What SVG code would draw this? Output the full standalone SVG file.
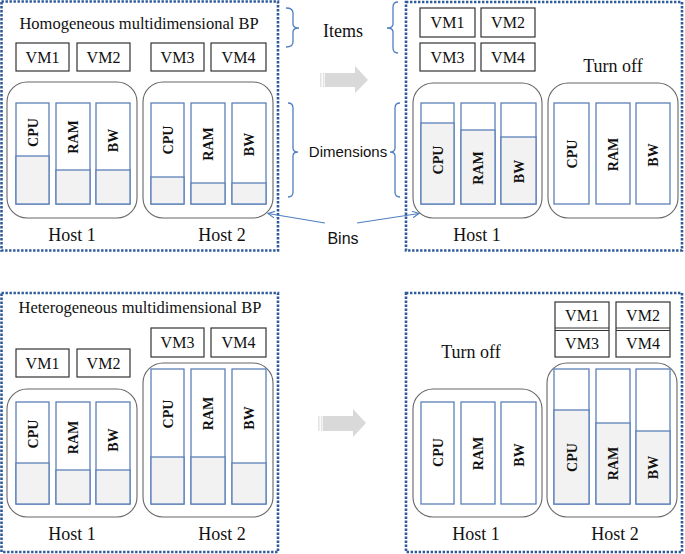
<svg xmlns="http://www.w3.org/2000/svg" width="685" height="554" viewBox="0 0 685 554">
<style>
.panel{fill:none;stroke:#2e5a9a;stroke-width:2.6;stroke-dasharray:2.4 1.6}
.host{fill:#fff;stroke:#666;stroke-width:1.1}
.bar{fill:#fff;stroke:#5b80b8;stroke-width:1.3}
.used{fill:#f2f2f2;stroke:#5b80b8;stroke-width:1.3}
.vm{fill:#fff;stroke:#333;stroke-width:1.2}
.t{font-family:"Liberation Serif","Times New Roman",serif;fill:#111;text-anchor:middle}
.vmt{font-size:16px}
.big{font-size:18px}
.title{font-size:16.5px}
.dim{font-family:"Liberation Serif","Times New Roman",serif;font-weight:bold;font-size:14px;fill:#111;text-anchor:middle}
.sans{font-family:"Liberation Sans",Arial,sans-serif;font-size:15px;fill:#111;text-anchor:middle}
.brace{fill:none;stroke:#4f7fc0;stroke-width:1.3}
.bin{fill:none;stroke:#4f7fc0;stroke-width:1.1}
.arrow{fill:#d9d9d9}
.stripe{fill:#e4e4e4}
</style>
<defs>
<marker id="open" markerWidth="8" markerHeight="8" refX="7" refY="4" orient="auto" markerUnits="userSpaceOnUse">
<path d="M0,0.5 L7,4 L0,7.5" fill="none" stroke="#4f7fc0" stroke-width="1.1"/>
</marker>
</defs>

<!-- ===== Top-left panel ===== -->
<g id="panel-homogeneous">
<rect class="panel" x="1.5" y="1.5" width="276.5" height="249"/>
<text class="t title" x="139" y="29">Homogeneous multidimensional BP</text>
</g>
<g id="tl-vm1"><rect class="vm" x="16" y="43" width="53" height="28"/><text class="t vmt" x="42.5" y="62.6">VM1</text></g>
<g id="tl-vm2"><rect class="vm" x="77" y="43" width="53" height="28"/><text class="t vmt" x="103.5" y="62.6">VM2</text></g>
<g id="tl-vm3"><rect class="vm" x="151" y="43" width="53" height="28"/><text class="t vmt" x="177.5" y="62.6">VM3</text></g>
<g id="tl-vm4"><rect class="vm" x="211" y="43" width="55" height="28"/><text class="t vmt" x="238.5" y="62.6">VM4</text></g>
<g id="tl-host1">
<rect class="host" x="7" y="82" width="130" height="136" rx="20"/>
<rect class="bar" x="16" y="103" width="33" height="101"/><rect class="used" x="16" y="156" width="33" height="48"/>
<rect class="bar" x="56" y="103" width="34" height="101"/><rect class="used" x="56" y="170" width="34" height="34"/>
<rect class="bar" x="96" y="103" width="34" height="101"/><rect class="used" x="96" y="170" width="34" height="34"/>
<text class="dim" transform="translate(37.5,132.5) rotate(-90)">CPU</text>
<text class="dim" transform="translate(78,137) rotate(-90)">RAM</text>
<text class="dim" transform="translate(118,140.5) rotate(-90)">BW</text>
<text class="t big" x="72" y="241">Host 1</text>
</g>
<g id="tl-host2">
<rect class="host" x="143" y="82" width="130" height="136" rx="20"/>
<rect class="bar" x="151" y="103" width="33" height="101"/><rect class="used" x="151" y="177" width="33" height="27"/>
<rect class="bar" x="191" y="103" width="34" height="101"/><rect class="used" x="191" y="183" width="34" height="21"/>
<rect class="bar" x="232" y="103" width="34" height="101"/><rect class="used" x="232" y="183" width="34" height="21"/>
<text class="dim" transform="translate(172.5,140) rotate(-90)">CPU</text>
<text class="dim" transform="translate(213,144) rotate(-90)">RAM</text>
<text class="dim" transform="translate(254,144.5) rotate(-90)">BW</text>
<text class="t big" x="222" y="241">Host 2</text>
</g>

<!-- ===== Top-right panel ===== -->
<g id="panel-homogeneous-result">
<rect class="panel" x="406" y="2" width="276" height="248.5"/>
<text class="t big" x="613" y="72">Turn off</text>
</g>
<g id="tr-vm1"><rect class="vm" x="420" y="8" width="55" height="29"/><text class="t vmt" x="447.5" y="28">VM1</text></g>
<g id="tr-vm2"><rect class="vm" x="481" y="8" width="54" height="29"/><text class="t vmt" x="508" y="28">VM2</text></g>
<g id="tr-vm3"><rect class="vm" x="420" y="43" width="55" height="28"/><text class="t vmt" x="447.5" y="62.6">VM3</text></g>
<g id="tr-vm4"><rect class="vm" x="481" y="43" width="54" height="28"/><text class="t vmt" x="508" y="62.6">VM4</text></g>
<g id="tr-host1">
<rect class="host" x="413" y="83" width="129" height="135" rx="20"/>
<rect class="bar" x="421" y="103" width="33" height="101"/><rect class="used" x="421" y="123" width="33" height="81"/>
<rect class="bar" x="461" y="103" width="34" height="101"/><rect class="used" x="461" y="130" width="34" height="74"/>
<rect class="bar" x="501" y="103" width="35" height="101"/><rect class="used" x="501" y="137" width="35" height="67"/>
<text class="dim" transform="translate(442.5,160) rotate(-90)">CPU</text>
<text class="dim" transform="translate(483,168) rotate(-90)">RAM</text>
<text class="dim" transform="translate(523.5,171.5) rotate(-90)">BW</text>
<text class="t big" x="477" y="241">Host 1</text>
</g>
<g id="tr-host2">
<rect class="host" x="548" y="83" width="130" height="135" rx="20"/>
<rect class="bar" x="554" y="103" width="35" height="101"/>
<rect class="bar" x="596" y="103" width="34" height="101"/>
<rect class="bar" x="636" y="103" width="34" height="101"/>
<text class="dim" transform="translate(576.5,154) rotate(-90)">CPU</text>
<text class="dim" transform="translate(618,154.5) rotate(-90)">RAM</text>
<text class="dim" transform="translate(658,155) rotate(-90)">BW</text>
</g>

<!-- ===== Bottom-left panel ===== -->
<g id="panel-heterogeneous">
<rect class="panel" x="1.5" y="293" width="276.5" height="259"/>
<text class="t title" x="140" y="313">Heterogeneous multidimensional BP</text>
</g>
<g id="bl-vm1"><rect class="vm" x="16" y="349" width="53" height="28"/><text class="t vmt" x="42.5" y="368.6">VM1</text></g>
<g id="bl-vm2"><rect class="vm" x="77" y="349" width="53" height="28"/><text class="t vmt" x="103.5" y="368.6">VM2</text></g>
<g id="bl-vm3"><rect class="vm" x="151" y="328" width="53" height="29"/><text class="t vmt" x="177.5" y="348">VM3</text></g>
<g id="bl-vm4"><rect class="vm" x="211" y="328" width="55" height="29"/><text class="t vmt" x="238.5" y="348">VM4</text></g>
<g id="bl-host1">
<rect class="host" x="7" y="389" width="130" height="128" rx="20"/>
<rect class="bar" x="16" y="402" width="33" height="102"/><rect class="used" x="16" y="463" width="33" height="41"/>
<rect class="bar" x="56" y="402" width="34" height="102"/><rect class="used" x="56" y="470" width="34" height="34"/>
<rect class="bar" x="96" y="402" width="34" height="102"/><rect class="used" x="96" y="470" width="34" height="34"/>
<text class="dim" transform="translate(37.5,434) rotate(-90)">CPU</text>
<text class="dim" transform="translate(78,437.5) rotate(-90)">RAM</text>
<text class="dim" transform="translate(118,440) rotate(-90)">BW</text>
<text class="t big" x="72" y="540">Host 1</text>
</g>
<g id="bl-host2">
<rect class="host" x="143" y="363" width="130" height="154" rx="20"/>
<rect class="bar" x="151" y="369" width="33" height="135"/><rect class="used" x="151" y="457" width="33" height="47"/>
<rect class="bar" x="191" y="369" width="34" height="135"/><rect class="used" x="191" y="457" width="34" height="47"/>
<rect class="bar" x="232" y="369" width="34" height="135"/><rect class="used" x="232" y="463" width="34" height="41"/>
<text class="dim" transform="translate(172.5,414) rotate(-90)">CPU</text>
<text class="dim" transform="translate(213,413.5) rotate(-90)">RAM</text>
<text class="dim" transform="translate(254,418) rotate(-90)">BW</text>
<text class="t big" x="222" y="540">Host 2</text>
</g>

<!-- ===== Bottom-right panel ===== -->
<g id="panel-heterogeneous-result">
<rect class="panel" x="406" y="293" width="276" height="259"/>
<text class="t big" x="471" y="358">Turn off</text>
</g>
<g id="br-vm13">
<rect class="vm" x="555" y="302" width="54" height="55"/>
<line x1="555" y1="328" x2="609" y2="328" stroke="#333" stroke-width="1.2"/>
<line x1="555" y1="330.5" x2="609" y2="330.5" stroke="#333" stroke-width="1.2"/>
<text class="t vmt" x="582" y="321">VM1</text>
<text class="t vmt" x="582" y="349">VM3</text>
</g>
<g id="br-vm24">
<rect class="vm" x="616" y="302" width="54" height="55"/>
<line x1="616" y1="328" x2="670" y2="328" stroke="#333" stroke-width="1.2"/>
<line x1="616" y1="330.5" x2="670" y2="330.5" stroke="#333" stroke-width="1.2"/>
<text class="t vmt" x="643" y="321">VM2</text>
<text class="t vmt" x="643" y="349">VM4</text>
</g>
<g id="br-host1">
<rect class="host" x="413" y="389" width="129" height="128" rx="20"/>
<rect class="bar" x="421" y="402" width="33" height="102"/>
<rect class="bar" x="461" y="402" width="34" height="102"/>
<rect class="bar" x="501" y="402" width="35" height="102"/>
<text class="dim" transform="translate(442.5,452.5) rotate(-90)">CPU</text>
<text class="dim" transform="translate(483,453.5) rotate(-90)">RAM</text>
<text class="dim" transform="translate(523.5,455) rotate(-90)">BW</text>
<text class="t big" x="476" y="540">Host 1</text>
</g>
<g id="br-host2">
<rect class="host" x="547" y="363" width="130" height="154" rx="20"/>
<rect class="bar" x="554" y="369" width="35" height="135"/><rect class="used" x="554" y="410" width="35" height="94"/>
<rect class="bar" x="596" y="369" width="34" height="135"/><rect class="used" x="596" y="423" width="34" height="81"/>
<rect class="bar" x="636" y="369" width="34" height="135"/><rect class="used" x="636" y="431" width="34" height="73"/>
<text class="dim" transform="translate(576.5,457.5) rotate(-90)">CPU</text>
<text class="dim" transform="translate(618,463.5) rotate(-90)">RAM</text>
<text class="dim" transform="translate(658,467.5) rotate(-90)">BW</text>
<text class="t big" x="615" y="540">Host 2</text>
</g>

<!-- ===== Transition arrows ===== -->
<g id="arrow-top">
<rect class="stripe" x="320" y="73" width="1.6" height="14"/>
<rect class="stripe" x="322.8" y="73" width="1.6" height="14"/>
<polygon class="arrow" points="325,73 355,73 355,66 368,80 355,93 355,87 325,87"/>
</g>
<g id="arrow-bottom">
<rect class="stripe" x="318" y="416" width="1.6" height="15"/>
<rect class="stripe" x="320.8" y="416" width="1.6" height="15"/>
<polygon class="arrow" points="323,416 353,416 353,409 366,423 353,437 353,431 323,431"/>
</g>

<!-- ===== Annotation labels ===== -->
<g id="label-items"><text class="t big" x="343" y="37">Items</text></g>
<g id="label-dimensions"><text class="sans" x="348" y="157">Dimensions</text></g>
<g id="label-bins"><text class="sans" x="343" y="244" style="font-size:16px">Bins</text></g>

<!-- ===== Connectors ===== -->
<g id="connectors">
<path class="brace" d="M286,8 Q293,8 293,13 L293,24 Q293,28 299,28 Q293,28 293,32 L293,42 Q293,47 286,47"/>
<path class="brace" d="M398,2 Q393,2 393,7 L393,24 Q393,28 387,28 Q393,28 393,32 L393,48 Q393,53 398,53"/>
<path class="brace" d="M288,103 Q293,103 293,108 L293,148 Q293,152 298,152 Q293,152 293,156 L293,192 Q293,197 288,197"/>
<path class="brace" d="M400,103 Q395,103 395,108 L395,148 Q395,152 390,152 Q395,152 395,156 L395,192 Q395,197 400,197"/>
<line class="bin" x1="325" y1="223" x2="268" y2="213.5" marker-end="url(#open)"/>
<line class="bin" x1="357" y1="223" x2="419" y2="213.5" marker-end="url(#open)"/>
</g>
</svg>
